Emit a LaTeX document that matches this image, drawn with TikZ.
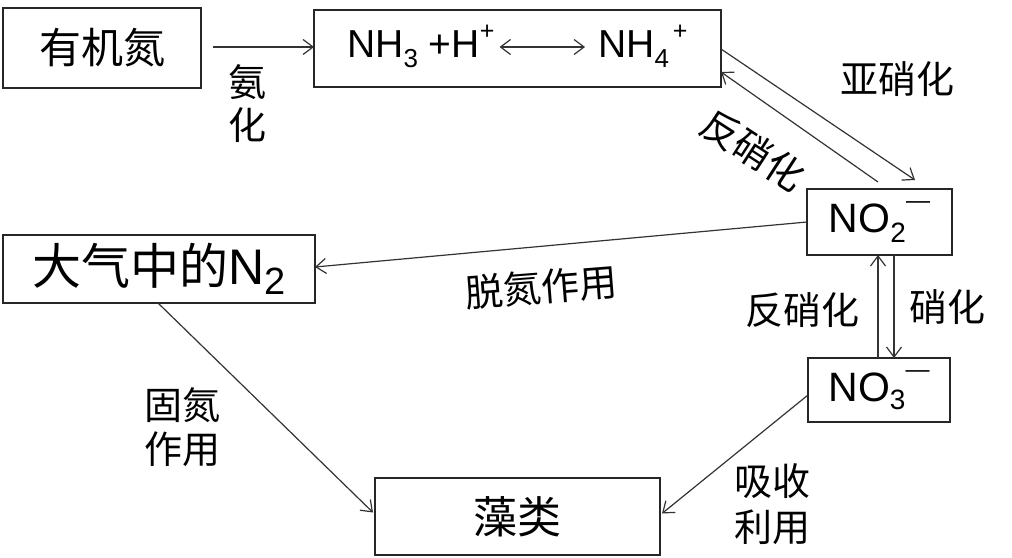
\documentclass[tikz,border=0pt]{standalone}
\usepackage{fontspec}
\setmainfont{Liberation Sans}
\newfontfamily\cjk{Noto Sans CJK SC}
\usetikzlibrary{arrows.meta}
\newcommand{\mysub}[3]{\raisebox{-#2pt}{\fontsize{#1}{#1}\selectfont #3}}
\newcommand{\mysup}[3]{\raisebox{#2pt}{\fontsize{#1}{#1}\selectfont #3}}
\begin{document}
\begin{tikzpicture}[x=1pt,y=-1pt,
  box/.style={draw=black!85, line width=1.6pt, inner sep=0pt, outer sep=0pt, rectangle},
  tip/.tip={Straight Barb[length=10pt,width=15pt]},
  arr/.style={draw=black!80, line width=1.2pt, -tip},
  lab/.style={font=\cjk\fontsize{38}{44}\selectfont, align=center, inner sep=0pt},
]
\useasboundingbox (0,0) rectangle (1012,557);

% boxes
\node[box, minimum width=198pt, minimum height=80pt, font=\cjk\fontsize{42}{42}\selectfont] (org) at (102,48) {有机氮};
\node[box, minimum width=407pt, minimum height=77pt] (nh) at (517.5,48.5) {};
\node[anchor=base west, inner sep=0pt, font=\fontsize{39}{39}\selectfont] (nhl) at (347,57) {NH\mysub{26}{10}{3} +H\mysup{25}{18}{+}};
\node[anchor=base west, inner sep=0pt, font=\fontsize{39}{39}\selectfont] (nhr) at (598,57) {NH\mysub{26}{10}{4}\kern4pt\mysup{25}{18}{+}};
\node[box, minimum width=145pt, minimum height=66pt, font=\fontsize{41}{41}\selectfont] (no2) at (879.5,222) {NO\mysub{28}{10}{2}\mysup{24}{24}{—}};
\node[box, minimum width=142pt, minimum height=64pt, font=\fontsize{41}{41}\selectfont] (no3) at (879,390) {NO\mysub{28}{8}{3}\mysup{24}{24}{—}};
\node[box, minimum width=312pt, minimum height=68pt, font=\fontsize{50}{50}\selectfont] (air) at (159,269) {{\cjk\fontsize{49}{49}\selectfont 大气中的}N\mysub{38}{10}{2}};
\node[box, minimum width=285pt, minimum height=77pt, font=\cjk\fontsize{44}{44}\selectfont] (alg) at (517.5,516.5) {藻类};

% labels
\node[lab, font=\cjk\fontsize{38}{43}\selectfont] (l1) at (247,103.5) {氨\\化};
\node[lab] (l2) at (897,79) {亚硝化};
\node[lab, rotate=-33] (l3) at (753,150) {反硝化};
\node[lab, rotate=4.5] (l4) at (541,287) {脱氮作用};
\node[lab] (l5) at (802,310) {反硝化};
\node[lab] (l6) at (947,307) {硝化};
\node[lab] (l7) at (182,427) {固氮\\作用};
\node[lab, font=\cjk\fontsize{38}{46}\selectfont] (l8) at (772,504) {吸收\\利用};

% connectors
\draw[arr] ([shift={(12,-1)}]org.east) -- ([shift={(0,-1.5)}]nh.west);
\draw[draw=black!80, line width=1.2pt, tip-tip] ([shift={(5,-10)}]nhl.base east) -- ([shift={(-13,-10)}]nhr.base west);
\draw[arr] ([shift={(0,0.5)}]nh.east) -- ([shift={(35.5,-9)}]no2.north);
\draw[arr] ([shift={(-1.5,-7)}]no2.north) -- ([shift={(0,23.5)}]nh.east);
\draw[arr] (no2.west) -- ([shift={(0,-2)}]air.east);
\draw[arr] ([shift={(-1,0)}]no3.north) -- ([shift={(-1.5,0)}]no2.south);
\draw[arr] ([shift={(14.5,0)}]no2.south) -- ([shift={(15,0)}]no3.north);
\draw[arr] ([shift={(-1,0)}]air.south) -- ([shift={(-2,-4)}]alg.west);
\draw[arr] ([shift={(0,5)}]no3.west) -- ([shift={(2,-3)}]alg.east);
\end{tikzpicture}
\end{document}
